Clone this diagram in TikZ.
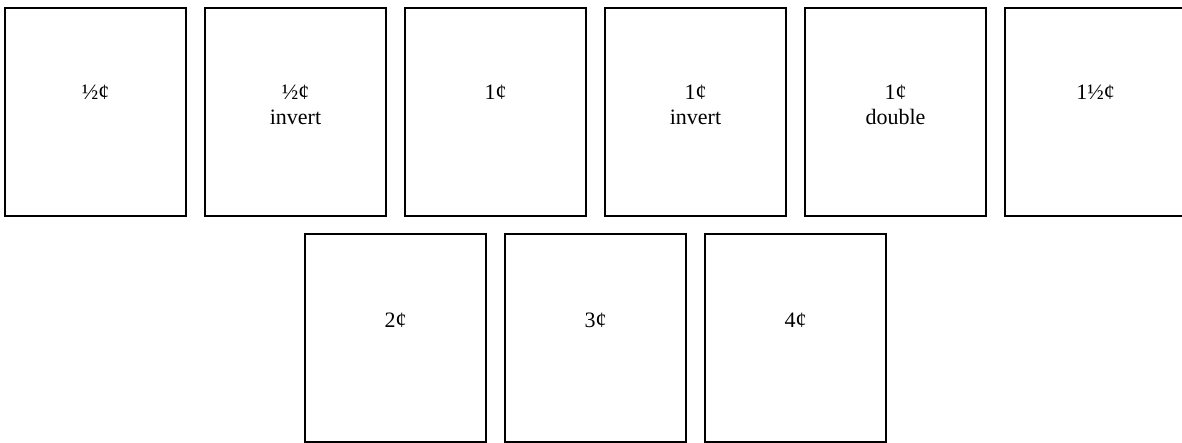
\documentclass[tikz,border=0pt]{standalone}
\usepackage{fontspec}
\setmainfont{Liberation Serif}
\usetikzlibrary{calc}
\begin{document}
\begin{tikzpicture}[x=1pt,y=-1pt,
  stampbox/.style={draw=black, line width=1.4pt, minimum width=181pt, minimum height=208pt, inner sep=0pt, outer sep=0pt, rectangle},
  lbl/.style={anchor=north, align=center, inner sep=0pt, font=\fontsize{22}{25}\selectfont}]
\useasboundingbox (0,0) rectangle (1182,442);
\clip (0,0) rectangle (1182,442);
\node[stampbox] (b1) at (95.5,112) {};
\node[stampbox] (b2) at (295.5,112) {};
\node[stampbox] (b3) at (495.5,112) {};
\node[stampbox] (b4) at (695.5,112) {};
\node[stampbox] (b5) at (895.5,112) {};
\node[stampbox] (b6) at (1095.5,112) {};
\node[stampbox] (b7) at (395.5,338) {};
\node[stampbox] (b8) at (595.5,338) {};
\node[stampbox] (b9) at (795.5,338) {};
\node[lbl] (t1) at ($(b1.north)+(0,77)$) {½¢};
\node[lbl] (t2) at ($(b2.north)+(0,77)$) {½¢\\invert};
\node[lbl] (t3) at ($(b3.north)+(0,77)$) {1¢};
\node[lbl] (t4) at ($(b4.north)+(0,77)$) {1¢\\invert};
\node[lbl] (t5) at ($(b5.north)+(0,77)$) {1¢\\double};
\node[lbl] (t6) at ($(b6.north)+(0,77)$) {1½¢};
\node[lbl] (t7) at ($(b7.north)+(0,79)$) {2¢};
\node[lbl] (t8) at ($(b8.north)+(0,79)$) {3¢};
\node[lbl] (t9) at ($(b9.north)+(0,79)$) {4¢};
\end{tikzpicture}
\end{document}
